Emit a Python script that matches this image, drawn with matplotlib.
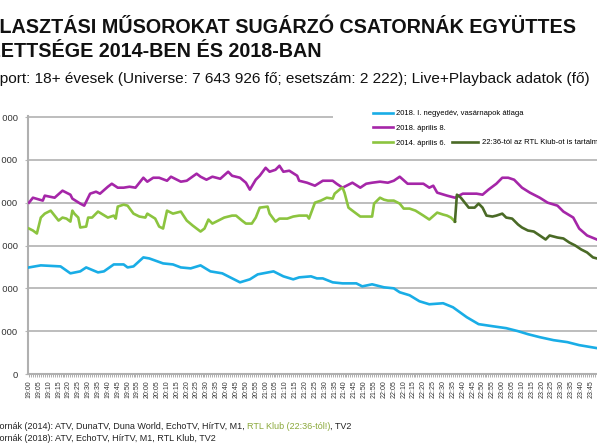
import matplotlib
matplotlib.use("Agg")
import matplotlib.pyplot as plt
from matplotlib.lines import Line2D
from matplotlib.patches import Rectangle

plt.rcParams['font.family'] = ['Liberation Sans', 'DejaVu Sans']

# perc 19:00 ota, nezok ezer fo
blue_t = [0, 6, 16, 21, 26, 29, 35, 38, 43, 48, 50, 53, 58, 61, 68, 73, 77, 82, 87, 92,
          98, 107, 112, 116, 124, 129, 134, 137, 143, 146, 149, 154, 159, 166, 169, 174,
          180, 185, 188, 193, 198, 203, 210, 215, 222, 228, 235, 242, 248, 253, 259,
          266, 273, 279, 288]
blue_v = [1244, 1268, 1256, 1175, 1198, 1244, 1186, 1198, 1279, 1279, 1244, 1256, 1361,
          1349, 1291, 1279, 1244, 1233, 1268, 1198, 1175, 1070, 1105, 1163, 1198, 1140,
          1105, 1128, 1140, 1116, 1116, 1070, 1058, 1058, 1023, 1047, 1012, 1000, 954,
          919, 849, 814, 826, 779, 663, 582, 558, 535, 500, 465, 430, 395, 372, 337, 302]

purple_t = [0, 2, 7, 8, 13, 17, 21, 22, 26, 28, 31, 34, 36, 40, 42, 45, 48, 51, 54, 58,
            60, 63, 66, 70, 72, 77, 80, 85, 87, 90, 93, 97, 101, 103, 107, 110, 112, 115,
            117, 120, 122, 125, 127, 129, 132, 136, 137, 141, 145, 149, 154, 156, 159,
            161, 164, 168, 171, 174, 178, 182, 185, 188, 192, 196, 200, 203, 205, 207,
            212, 216, 220, 222, 227, 230, 233, 237, 240, 243, 246, 250, 254, 259, 263,
            268, 271, 276, 279, 283, 288]
purple_v = [2000, 2058, 2024, 2082, 2058, 2140, 2093, 2047, 1989, 1965, 2105, 2128, 2105,
            2186, 2221, 2175, 2175, 2186, 2175, 2291, 2245, 2291, 2291, 2256, 2303, 2245,
            2256, 2338, 2303, 2268, 2303, 2279, 2361, 2314, 2291, 2233, 2152, 2268, 2314,
            2407, 2361, 2384, 2431, 2361, 2373, 2314, 2256, 2233, 2198, 2256, 2256, 2221,
            2175, 2198, 2233, 2175, 2221, 2233, 2245, 2233, 2256, 2303, 2221, 2221, 2221,
            2175, 2198, 2117, 2082, 2058, 2105, 2105, 2105, 2093, 2152, 2221, 2291, 2291,
            2268, 2175, 2117, 2058, 2000, 1965, 1896, 1826, 1698, 1617, 1570]

green_t = [0, 2, 4, 6, 8, 11, 13, 15, 17, 19, 21, 22, 23, 25, 26, 29, 30, 32, 35, 40, 43,
           44, 45, 48, 50, 53, 56, 59, 60, 64, 66, 68, 70, 73, 77, 80, 83, 87, 89, 91, 93,
           96, 99, 103, 105, 108, 110, 113, 115, 117, 121, 122, 125, 127, 131, 134, 137,
           141, 142, 145, 148, 151, 154, 155, 158, 159, 160, 162, 164, 168, 171, 174, 175,
           178, 180, 182, 185, 188, 190, 193, 196, 200, 203, 207, 210, 212, 214, 216]
green_v = [1698, 1675, 1640, 1826, 1872, 1907, 1849, 1791, 1826, 1814, 1779, 1907, 1872,
           1826, 1710, 1721, 1826, 1826, 1896, 1826, 1849, 1814, 1954, 1977, 1965, 1872,
           1838, 1826, 1872, 1814, 1721, 1698, 1907, 1872, 1896, 1791, 1733, 1663, 1698,
           1803, 1756, 1791, 1826, 1849, 1849, 1791, 1756, 1756, 1826, 1942, 1954, 1872,
           1779, 1814, 1814, 1838, 1849, 1849, 1814, 2000, 2024, 2058, 2047, 2105, 2163,
           2175, 2117, 1942, 1907, 1838, 1838, 1838, 1989, 2058, 2035, 2024, 2024, 1989,
           1931, 1931, 1907, 1849, 1803, 1884, 1861, 1849, 1826, 1779]

dark_t = [216, 217, 219, 221, 223, 226, 228, 230, 232, 235, 237, 240, 242, 245, 248, 250,
          253, 256, 259, 262, 264, 268, 271, 274, 277, 280, 283, 286, 288]
dark_v = [1779, 2093, 2058, 2000, 1942, 1942, 1989, 1942, 1849, 1838, 1849, 1872, 1826,
          1814, 1745, 1710, 1675, 1663, 1617, 1570, 1617, 1593, 1582, 1535, 1500, 1454,
          1419, 1361, 1349]

labels = ["2018. I. negyedév, vasárnapok átlaga", "2018. április 8.", "2014. április 6.",
          "22:36-tól az RTL Klub-ot is tartalmazza"]
colors = ["#19ade6", "#a526a8", "#8cc43f", "#4a6a26"]

y_ticks = [0, 500, 1000, 1500, 2000, 2500, 3000]
x_ticks = list(range(0, 300, 5))
x_labels = ["%d:%02d" % (19 + m // 60, m % 60) for m in x_ticks]

W, H = 597, 448
fig = plt.figure(figsize=(W / 100, H / 100), dpi=100)

def fx(px):
    return px / W

def fy(py):
    return 1 - py / H

# a tengely 19:00-nal 28 px-nel kezdodik, a jobb szele kilog a kepbol
ppm = 1.972
xmin, xmax = -0.5, 300
ax = fig.add_axes([fx(28), fy(374), fx((xmax - xmin) * ppm), (374 - 116) / H])
ax.set_xlim(xmin, xmax)
ax.set_ylim(0, 3000 * 258 / 257)

lw = 1.9
ax.plot(blue_t, blue_v, color=colors[0], lw=lw, zorder=3)
ax.plot(purple_t, purple_v, color=colors[1], lw=lw, zorder=3)
ax.plot(green_t, green_v, color=colors[2], lw=lw, zorder=3)
ax.plot(dark_t, dark_v, color=colors[3], lw=lw, zorder=4)

ax.set_axisbelow(True)
ax.grid(axis='y', color='#b8b8b8', lw=1.3)
for s in ['top', 'right']:
    ax.spines[s].set_visible(False)
for s in ['left', 'bottom']:
    ax.spines[s].set_color('#b0b0b0')
    ax.spines[s].set_linewidth(1.5)

ax.set_yticks(y_ticks)
ax.set_yticklabels([f"{v * 1000:,}".replace(",", " ") for v in y_ticks])
ax.set_xticks(x_ticks)
ax.set_xticklabels(x_labels, rotation=90, fontsize=5)
ax.set_xticks(range(0, 300), minor=True)
ax.tick_params(axis='y', labelsize=6.8, length=2.5, color='#b8b8b8', pad=5, labelcolor='#333333')
ax.tick_params(axis='x', which='both', length=2.5, color='#a0a0a0', width=0.6,
               labelcolor='#333333', pad=2)

# feher hatter a jelmagyarazat mogott
ax.add_patch(Rectangle((fx(333), fy(152)), 1, fy(104) - fy(152), transform=fig.transFigure,
                       facecolor='white', edgecolor='none', zorder=1.5))

h = [Line2D([], [], color=c, lw=1.9) for c in colors]
leg1 = ax.legend(h[:3], labels[:3], loc='upper left', bbox_to_anchor=(fx(373), fy(110)),
                 bbox_transform=fig.transFigure, frameon=False, fontsize=5.5,
                 handlelength=2.6, handletextpad=0.35, labelspacing=0.95, borderpad=0,
                 borderaxespad=0)
ax.add_artist(leg1)
ax.legend(h[3:], labels[3:], loc='upper left', bbox_to_anchor=(fx(452), fy(139)),
          bbox_transform=fig.transFigure, frameon=False, fontsize=5.5,
          handlelength=3.4, handletextpad=0.5, borderpad=0, borderaxespad=0)

fig.text(fx(-47), fy(33), "A VÁLASZTÁSI MŰSOROKAT SUGÁRZÓ CSATORNÁK EGYÜTTES",
         fontsize=14.2, fontweight='bold', va='baseline', ha='left', color='#111111')
fig.text(fx(-39), fy(57), "NÉZETTSÉGE 2014-BEN ÉS 2018-BAN",
         fontsize=14.2, fontweight='bold', va='baseline', ha='left', color='#111111')
fig.text(fx(-47), fy(83),
         "Célcsoport: 18+ évesek (Universe: 7 643 926 fő; esetszám: 2 222); Live+Playback adatok (fő)",
         fontsize=11.1, va='baseline', ha='left', color='#111111')

# labjegyzet, a 2014-es RTL Klub zold szinnel
parts = [("Csatornák (2014): ATV, DunaTV, Duna World, EchoTV, HírTV, M1, ", '#222222'),
         ("RTL Klub (22:36-tól!)", '#8aa83a'),
         (", TV2", '#222222')]
fig.canvas.draw()
r = fig.canvas.get_renderer()
x = -19
for txt, c in parts:
    t = fig.text(fx(x), fy(429), txt, fontsize=6.5, va='baseline', ha='left', color=c)
    x += t.get_window_extent(r).width
fig.text(fx(-19), fy(441), "Csatornák (2018): ATV, EchoTV, HírTV, M1, RTL Klub, TV2",
         fontsize=6.5, va='baseline', ha='left', color='#222222')

fig.savefig("out.png", dpi=100)
plt.close('all')
